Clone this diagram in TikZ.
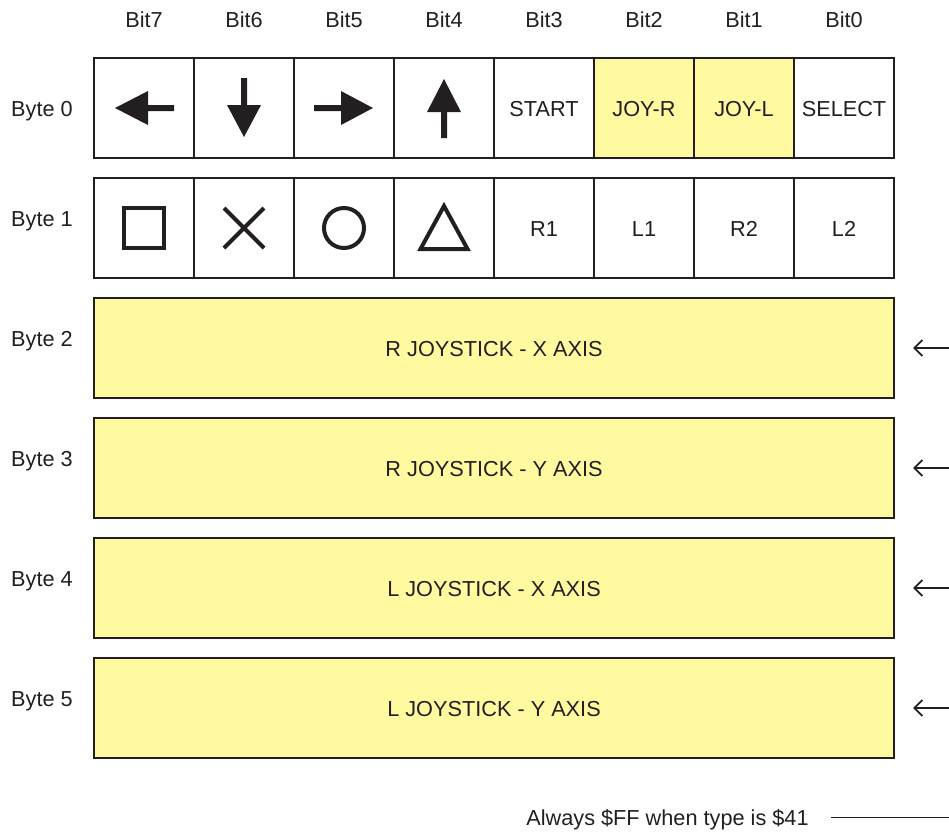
\documentclass[tikz,border=0pt]{standalone}
\usepackage{fontspec}
\setmainfont{Liberation Sans}
\usetikzlibrary{arrows.meta}
\definecolor{ink}{HTML}{231F20}
\definecolor{padyellow}{RGB}{255,250,160}
\begin{document}
\begin{tikzpicture}[x=1pt,y=-1pt,
  every node/.style={font=\fontsize{21.7}{26}\selectfont, text=ink},
  cell/.style={draw=ink, line width=2.8pt, minimum width=100pt, minimum height=100pt, inner sep=0pt, outer sep=0pt, fill=white, text height=16pt, text depth=0pt},
  hi/.style={fill=padyellow},
  bar/.style={draw=ink, line width=2.8pt, minimum width=800pt, minimum height=100pt, inner sep=0pt, outer sep=0pt, fill=padyellow, text height=16pt, text depth=0pt},
  lbl/.style={inner sep=0pt, anchor=base},
  sym/.style={draw=ink, line width=4pt},
  feed/.style={draw=ink, line width=1.9pt, -{Straight Barb[length=8pt,width=16pt,line width=1.9pt]}, shorten >=19pt}
]
\useasboundingbox (0,0) rectangle (949,833);

% bit headings
\foreach \i/\x in {7/144,6/244,5/344,4/444,3/544,2/644,1/744,0/844}
  \node[lbl] (bit\i) at (\x,27.5) {Bit\i};

% byte labels
\node[lbl] (lb0) at (42,116) {Byte 0};
\node[lbl] (lb1) at (42,226) {Byte 1};
\node[lbl] (lb2) at (42,346) {Byte 2};
\node[lbl] (lb3) at (42,466) {Byte 3};
\node[lbl] (lb4) at (42,586) {Byte 4};
\node[lbl] (lb5) at (42,706) {Byte 5};

% byte 0
\node[cell] (a7) at (144,108) {};
\node[cell] (a6) at (244,108) {};
\node[cell] (a5) at (344,108) {};
\node[cell] (a4) at (444,108) {};
\node[cell] (a3) at (544,108) {START};
\node[cell,hi] (a2) at (644,108) {JOY-R};
\node[cell,hi] (a1) at (744,108) {JOY-L};
\node[cell] (a0) at (844,108) {SELECT};

% byte 1
\node[cell] (b7) at (144,228) {};
\node[cell] (b6) at (244,228) {};
\node[cell] (b5) at (344,228) {};
\node[cell] (b4) at (444,228) {};
\node[cell] (b3) at (544,228) {R1};
\node[cell] (b2) at (644,228) {L1};
\node[cell] (b1) at (744,228) {R2};
\node[cell] (b0) at (844,228) {L2};

% direction arrows
\begin{scope}[shift={(a7.center)}]
  \fill[ink] (-29,0) -- (4,-17) -- (4,-3) -- (30,-3) -- (30,3) -- (4,3) -- (4,17) -- cycle;
\end{scope}
\begin{scope}[shift={(a6.center)}]
  \fill[ink] (0,29) -- (-17,-3) -- (-3,-3) -- (-3,-30) -- (3,-30) -- (3,-3) -- (17,-3) -- cycle;
\end{scope}
\begin{scope}[shift={(a5.center)}]
  \fill[ink] (29,0) -- (-3,-17) -- (-3,-3) -- (-30,-3) -- (-30,3) -- (-3,3) -- (-3,17) -- cycle;
\end{scope}
\begin{scope}[shift={(a4.center)}]
  \fill[ink] (0,-29) -- (-17,4) -- (-3,4) -- (-3,30) -- (3,30) -- (3,4) -- (17,4) -- cycle;
\end{scope}

% button symbols
\begin{scope}[shift={(b7.center)}]
  \draw[sym] (-20,-20) rectangle (20,20);
\end{scope}
\begin{scope}[shift={(b6.center)}]
  \draw[sym] (-20,-20) -- (20,20) (-20,20) -- (20,-20);
\end{scope}
\begin{scope}[shift={(b5.center)}]
  \draw[sym] (0,0) circle[radius=20];
\end{scope}
\begin{scope}[shift={(b4.center)}]
  \draw[sym, line join=miter] (0,-22) -- (-23.5,21) -- (23.5,21) -- cycle;
\end{scope}

% analog bytes
\node[bar] (c2) at (494,348) {R JOYSTICK - X AXIS};
\node[bar] (c3) at (494,468) {R JOYSTICK - Y AXIS};
\node[bar] (c4) at (494,588) {L JOYSTICK - X AXIS};
\node[bar] (c5) at (494,708) {L JOYSTICK - Y AXIS};

\coordinate (r2) at (949,348);
\coordinate (r3) at (949,468);
\coordinate (r4) at (949,588);
\coordinate (r5) at (949,708);
\draw[feed] (r2) -- (c2);
\draw[feed] (r3) -- (c3);
\draw[feed] (r4) -- (c4);
\draw[feed] (r5) -- (c5);

% note
\node[inner sep=0pt, text height=16pt, text depth=0pt] (note) at (667.5,817.5) {Always \$FF when type is \$41};
\coordinate (rb) at (949,817.5);
\draw[ink, line width=1.9pt, shorten <=22pt] (note) -- (rb);
\end{tikzpicture}
\end{document}
